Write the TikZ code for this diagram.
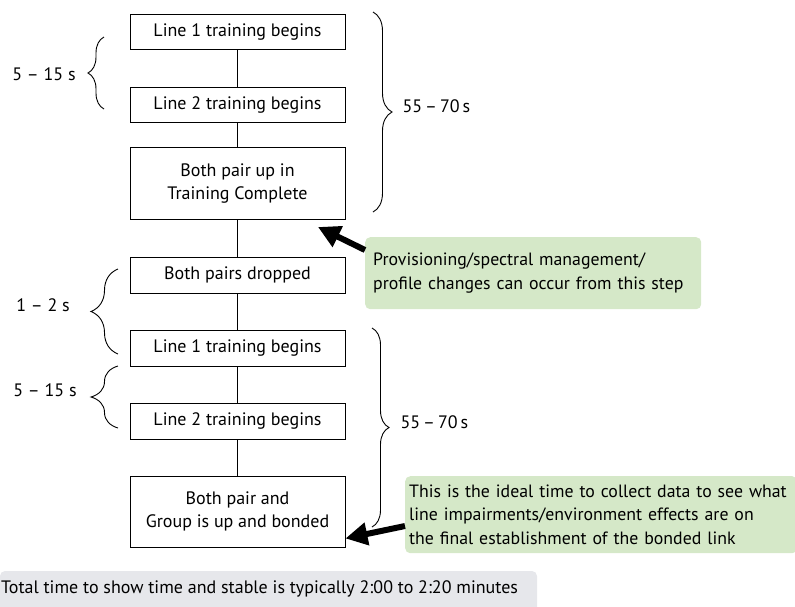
\documentclass[tikz,border=0pt]{standalone}
\usepackage{fontspec}
\setmainfont{PT Sans}
\usetikzlibrary{arrows.meta,decorations.pathreplacing}
\definecolor{NoteGreen}{HTML}{D5E8C8}
\definecolor{NoteGrey}{HTML}{E6E7EB}

\begin{document}
\begin{tikzpicture}[x=1pt,y=-1pt,
    stage/.style={draw,line width=0.9pt,minimum width=215pt,align=center,
      inner sep=2pt,font=\fontsize{18}{23}\selectfont},
    link/.style={line width=0.9pt},
    span/.style={decorate,decoration={brace,amplitude=#1},line width=0.9pt},
    spanlabel/.style={font=\fontsize{18}{22}\selectfont},
    callout/.style={fill=NoteGreen,rounded corners=5pt,anchor=north west,
      align=left,font=\fontsize{17.8}{23.5}\selectfont},
    pointer/.style={-{Triangle[length=22pt,width=22pt]},line width=6pt}
  ]
  \path[use as bounding box] (0,0) rectangle (795,606);

  % flow of training steps
  \node[stage,minimum height=35pt] (line1a) at (237.5,31.5) {Line 1 training begins};
  \node[stage,minimum height=35pt] (line2a) at (237.5,104.5) {Line 2 training begins};
  \node[stage,minimum height=72pt] (trained) at (237.5,183.5) {Both pair up in\\Training Complete};
  \node[stage,minimum height=36pt] (dropped) at (237.5,275) {Both pairs dropped};
  \node[stage,minimum height=36pt] (line1b) at (237.5,348) {Line 1 training begins};
  \node[stage,minimum height=36pt] (line2b) at (237.5,421) {Line 2 training begins};
  \node[stage,minimum height=71pt] (bonded) at (237.5,511.5) {Both pair and\\Group is up and bonded};

  \draw[link] (line1a) -- (line2a);
  \draw[link] (line2a) -- (trained);
  \draw[link] (trained) -- (dropped);
  \draw[link] (dropped) -- (line1b);
  \draw[link] (line1b) -- (line2b);
  \draw[link] (line2b) -- (bonded);

  % timing braces
  \draw[span=16pt] (104,109) -- (104,37);
  \node[spanlabel] (gap1) at (44,74) {5 -- 15 s};
  \draw[span=27pt] (118,354) -- (118,269);
  \node[spanlabel] (gap2) at (43,305) {1 -- 2 s};
  \draw[span=27pt] (118,428) -- (118,366);
  \node[spanlabel] (gap3) at (45,390) {5 -- 15 s};
  \draw[span=19pt] (373,12) -- (373,212);
  \node[spanlabel,anchor=west] (total1) at (399,106) {55\,--\,70\,s};
  \draw[span=17pt] (372,328) -- (372,527);
  \node[spanlabel,anchor=west] (total2) at (397,422) {55\,--\,70\,s};

  % notes
  \node[callout,minimum width=335pt,minimum height=72pt,text width=320pt,
    inner xsep=8pt] (prov) at (365,237)
    {Provisioning/spectral management/\\profile changes can occur from this step};
  \coordinate (prov-tip) at (318,227);
  \draw[pointer] ([yshift=-13pt]prov.north west) -- (prov-tip);

  \node[callout,minimum width=390pt,minimum height=77pt,text width=384pt,
    inner xsep=4pt] (ideal) at (405,476)
    {This is the ideal time to collect data to see what\\line impairments/environment effects are on\\the final establishment of the bonded link};
  \coordinate (ideal-tip) at ([yshift=9pt]bonded.south east);
  \draw[pointer] ([yshift=-50pt]ideal.north west) -- (ideal-tip);

  \fill[NoteGrey,rounded corners=5pt] (0,571) rectangle (537,612);
  \node[anchor=west,inner xsep=0pt,font=\fontsize{18}{22}\selectfont] (summary) at (1,589)
    {Total time to show time and stable is typically 2:00 to 2:20 minutes};
\end{tikzpicture}
\end{document}
